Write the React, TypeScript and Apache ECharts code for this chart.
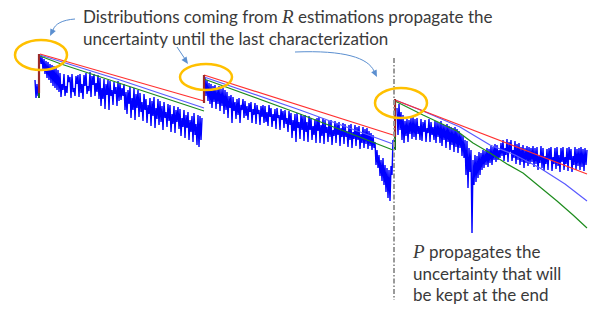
import React, { useEffect, useRef } from "react";
import * as echarts from "echarts";

// Sample grid of the noisy trace (time index, step between samples)
const sampleStep = 1;
const seg1Start = 40;
const seg2Start = 205;
const seg3Start = 397;

// Noisy estimate (level values, larger = lower on the chart)
const noisyLead = [[35, 80], [36, 98], [37, 84], [38, 96]];
const noisySeg1 = [
  56, 64, 57, 70, 59, 74, 61, 78, 62, 80, 64, 83, 65, 86, 66, 88, 68, 90, 70, 92,
  73, 97, 84, 90, 74, 96, 86, 93, 75, 82, 77, 98, 74, 92, 88, 96, 76, 84, 75, 97,
  74, 93, 84, 99, 75, 86, 73, 94, 86, 91, 72, 97, 76, 85, 74, 96, 83, 92, 75, 99,
  78, 106, 88, 99, 79, 109, 84, 95, 80, 110, 81, 96, 90, 105, 82, 94, 87, 106, 81, 101,
  83, 100, 88, 96, 84, 110, 92, 114, 90, 104, 87, 118, 98, 110, 88, 120, 94, 108, 90, 117,
  93, 112, 102, 121, 94, 110, 99, 123, 105, 114, 98, 126, 101, 116, 97, 128, 108, 119, 99, 125,
  101, 122, 106, 130, 102, 118, 112, 127, 104, 121, 105, 132, 114, 124, 106, 133, 110, 122, 107, 129,
  109, 136, 118, 127, 110, 138, 115, 128, 112, 140, 120, 132, 116, 142, 113, 135, 124, 145, 115, 147,
  116, 140, 118,
];
const noisySeg2 = [
  78, 96, 80, 101, 83, 104, 84, 108, 86, 102, 85, 109, 88, 104, 86, 111, 89, 106, 88, 114,
  90, 110, 92, 118, 96, 108, 95, 123, 97, 111, 102, 119, 99, 115, 98, 123, 105, 110, 99, 118,
  101, 116, 106, 120, 103, 112, 102, 123, 109, 115, 103, 124, 105, 114, 110, 125, 106, 117, 105, 123,
  106, 122, 112, 126, 105, 117, 108, 127, 114, 121, 109, 129, 108, 118, 115, 130, 109, 120, 111, 128,
  110, 124, 118, 132, 111, 125, 113, 138, 120, 131, 114, 142, 113, 128, 122, 139, 114, 130, 116, 141,
  115, 132, 122, 142, 116, 130, 118, 140, 126, 135, 119, 143, 118, 131, 117, 143, 125, 136, 118, 144,
  120, 133, 127, 142, 121, 137, 120, 145, 130, 136, 121, 143, 123, 135, 122, 146, 128, 137, 123, 144,
  124, 137, 131, 147, 125, 140, 124, 148, 132, 139, 125, 146, 127, 140, 126, 149, 134, 143, 127, 148,
  129, 144, 128, 149, 131, 146, 133, 150, 135, 148, 142, 165, 150, 168, 155, 176, 160, 181, 158, 185,
  165, 192, 168, 198, 170, 201, 166, 175, 140,
];
const noisySeg3 = [
  108, 135, 104, 130, 112, 140, 115, 143, 121, 136, 119, 142, 120, 134, 118, 139, 117, 137, 119, 140,
  118, 134, 126, 140, 119, 141, 122, 132, 120, 142, 128, 133, 119, 142, 122, 135, 127, 140, 121, 143,
  122, 137, 123, 143, 121, 146, 124, 140, 125, 148, 124, 142, 126, 150, 127, 145, 128, 152, 127, 147,
  129, 153, 131, 148, 134, 156, 136, 158, 140, 175, 141, 188, 148, 172, 150, 233, 160, 185, 155, 182,
  156, 178, 152, 175, 153, 170, 150, 168, 151, 165, 148, 167, 149, 163, 146, 165, 147, 160, 144, 162,
  145, 160, 150, 158, 143, 156, 140, 161, 148, 155, 139, 162, 142, 152, 140, 161, 150, 158, 141, 164,
  144, 160, 143, 165, 147, 162, 145, 168, 148, 163, 146, 166, 147, 164, 148, 162, 146, 167, 148, 164,
  147, 170, 155, 163, 146, 168, 148, 171, 156, 164, 149, 170, 148, 160, 147, 171, 157, 164, 148, 169,
  147, 166, 155, 172, 148, 162, 147, 170, 157, 164, 148, 171, 147, 160, 149, 172, 156, 165, 147, 170,
  149, 166, 148, 170, 147, 167, 149, 171, 148, 165, 150,
];

// Upper bound (red), per characterization segment
const redSeg1 = [[40, 54], [204, 101]];
const redSeg2 = [[204, 75], [393, 135]];
const redSeg3 = [[395, 100], [587, 174]];

// Propagated mean (light blue)
const meanSeg1 = [[40, 55], [120, 80], [204, 108]];
const meanSeg2 = [[204, 77], [300, 110], [393, 144]];
const meanSeg3 = [[395, 100], [423, 111], [460, 127], [490, 145], [515, 155], [540, 168], [565, 184], [587, 201]];

// P propagation (green)
const greenSeg1 = [[40, 56], [61, 64], [128, 86], [204, 111]];
const greenSeg2 = [[204, 79], [300, 114], [393, 150]];
const greenSeg3 = [
  [395, 101], [423, 115], [457, 131], [473, 143], [490, 153], [507, 164],
  [523, 173], [540, 187], [557, 201], [573, 215], [587, 228],
];

// Re-initialisation jumps (dark red) and green tails
const jumps = [
  [[39, 93], [39, 54]],
  [[204, 103], [204, 75]],
  [[395, 137], [395, 99]],
];
const greenJumps = [
  [[39, 98], [39, 88]],
  [[395, 150], [395, 135]],
];

// Last characterization marker
const lastCharX = 394;
const markerSpan = [58, 300];

const titleLines = [
  "Distributions coming from {r|R} estimations propagate the",
  "uncertainty until the last characterization",
];
const noteLines = ["{r|P} propagates the", "uncertainty that will", "be kept at the end"];

const toXY = (start: number, vals: number[]) => vals.map((v, i) => [start + i * sampleStep, v]);

export default function App() {
  const ref = useRef<HTMLDivElement>(null);
  useEffect(() => {
    if (!ref.current) return;
    const chart = echarts.init(ref.current, null, { renderer: "svg" });
    const lineS = (data: number[][], color: string, width: number, extra: any = {}) => ({
      type: "line",
      data,
      symbol: "none",
      silent: true,
      lineStyle: { color, width, ...extra },
    });
    const series: any[] = [
      lineS(noisyLead, "#0000ff", 1.4),
      lineS(toXY(seg1Start, noisySeg1), "#0000ff", 1.4),
      lineS(toXY(seg2Start, noisySeg2), "#0000ff", 1.4),
      lineS(toXY(seg3Start, noisySeg3), "#0000ff", 1.4),
      lineS(meanSeg1, "#5a5aff", 1.2),
      lineS(meanSeg2, "#5a5aff", 1.2),
      lineS(meanSeg3, "#5a5aff", 1.2),
      lineS(greenSeg1, "#1e8c1e", 1.2),
      lineS(greenSeg2, "#1e8c1e", 1.2),
      lineS(greenSeg3, "#1e8c1e", 1.2),
      lineS(redSeg1, "#ff3030", 1.2),
      lineS(redSeg2, "#ff3030", 1.2),
      lineS(redSeg3, "#ff3030", 1.2),
      ...greenJumps.map((d) => lineS(d, "#1e6e1e", 2)),
      ...jumps.map((d) => lineS(d, "#9b2a2a", 2.2)),
      lineS(
        [[lastCharX, markerSpan[0]], [lastCharX, markerSpan[1]]],
        "#9a9a9a",
        2,
        { type: [5, 2, 1.5, 2] }
      ),
    ];
    const ellipse = (cx: number, cy: number, rx: number, ry: number) => ({
      type: "ellipse",
      shape: { cx, cy, rx, ry },
      style: { fill: "none", stroke: "#ffc000", lineWidth: 2.5 },
      z: 100,
    });
    const arrowColor = "#5b8fd0";
    const txtStyle = (text: string, x: number, y: number) => ({
      type: "text",
      x,
      y,
      z: 100,
      style: {
        text,
        fill: "#3a3a3a",
        font: "17px Lato",
        verticalAlign: "middle",
        align: "left",
        rich: {
          r: {
            fontFamily: "Liberation Serif",
            fontStyle: "italic",
            fontSize: 19,
            fill: "#3a3a3a",
          },
        },
      },
    });
    chart.setOption({
      animation: false,
      grid: { left: 0, right: 0, top: 0, bottom: 0 },
      xAxis: { type: "value", min: 0, max: 598, show: false },
      yAxis: { type: "value", min: 0, max: 309, inverse: true, show: false },
      series,
      graphic: [
        ellipse(41, 55, 26, 15),
        ellipse(206, 77, 26, 13),
        ellipse(401, 103, 26, 15),
        {
          type: "bezierCurve",
          shape: { x1: 75, y1: 19, cpx1: 62, cpy1: 20, cpx2: 55, cpy2: 24, x2: 53, y2: 30 },
          style: { stroke: arrowColor, lineWidth: 1, fill: "none" },
        },
        { type: "polygon", shape: { points: [[50, 36], [55.8, 31.1], [50.4, 28.5]] }, style: { fill: arrowColor } },
        {
          type: "line",
          shape: { x1: 177, y1: 47, x2: 185, y2: 59 },
          style: { stroke: arrowColor, lineWidth: 1 },
        },
        { type: "polygon", shape: { points: [[188, 64], [181.5, 59.9], [186.5, 56.5]] }, style: { fill: arrowColor } },
        {
          type: "bezierCurve",
          shape: { x1: 295, y1: 52, cpx1: 345, cpy1: 50, cpx2: 368, cpy2: 58, x2: 374, y2: 71 },
          style: { stroke: arrowColor, lineWidth: 1, fill: "none" },
        },
        { type: "polygon", shape: { points: [[377, 77], [371.2, 72.2], [376.6, 69.5]] }, style: { fill: arrowColor } },
        txtStyle(titleLines[0], 83, 16),
        txtStyle(titleLines[1], 83, 38),
        txtStyle(noteLines[0], 413, 251),
        txtStyle(noteLines[1], 413, 273),
        txtStyle(noteLines[2], 413, 294),
      ],
    });
    return () => chart.dispose();
  }, []);
  return (
    <div
      ref={ref}
      style={{ position: "fixed", left: 0, top: 0, width: 598, height: 309, background: "#fff" }}
    />
  );
}
